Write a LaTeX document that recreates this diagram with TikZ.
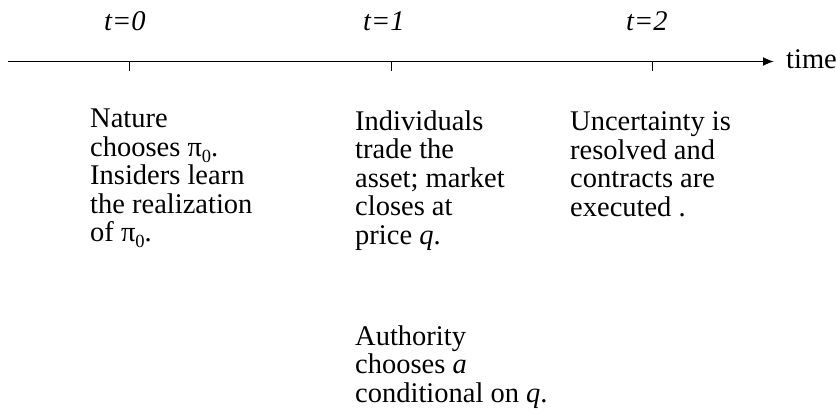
\documentclass[tikz,border=0pt]{standalone}
\usepackage{fontspec}
\setmainfont{Liberation Serif}
\usetikzlibrary{arrows.meta}
\newcommand{\pizero}{π\raisebox{-0.22em}{\fontsize{18.5}{18.5}\selectfont 0}}
\begin{document}
\begin{tikzpicture}[x=1pt,y=-1pt,
  lbl/.style={anchor=base west,inner sep=0pt,align=left,
    font=\fontsize{28.5}{28.5}\selectfont},
  tick/.style={line width=0.8pt}]
\useasboundingbox (0,0) rectangle (837,410);
% time axis
\coordinate (start) at (8,61.5);
\coordinate (tip) at (774,61.5);
\node[lbl] (time) at (786,68) {time};
\draw[line width=1.8pt,-{Latex[length=11pt,width=9pt]}] (start) -- (tip);
% ticks
\foreach \n/\x in {a/129,b/391,c/652}{
  \coordinate (\n top) at (\x,61.5);
  \coordinate (\n bot) at (\x,71);
  \draw[tick] (\n top) -- (\n bot);
}
% period labels
\node[lbl] (t0) at (104,30) {\textit{t=0}};
\node[lbl] (t1) at (363,30) {\textit{t=1}};
\node[lbl] (t2) at (626,30) {\textit{t=2}};
% events (anchored at the baseline of their last line)
\node[lbl] (nature) at (90,241.5) {Nature\\chooses \pizero.\\Insiders learn\\the realization\\of \pizero.};
\node[lbl] (trade) at (355,244) {Individuals\\trade the\\asset; market\\closes at\\price \textit{q}.};
\node[lbl] (resolve) at (570,216) {Uncertainty is\\resolved and\\contracts are\\executed .};
\node[lbl] (auth) at (355,402) {Authority\\chooses \textit{a}\\conditional on \textit{q}.};
\end{tikzpicture}
\end{document}
